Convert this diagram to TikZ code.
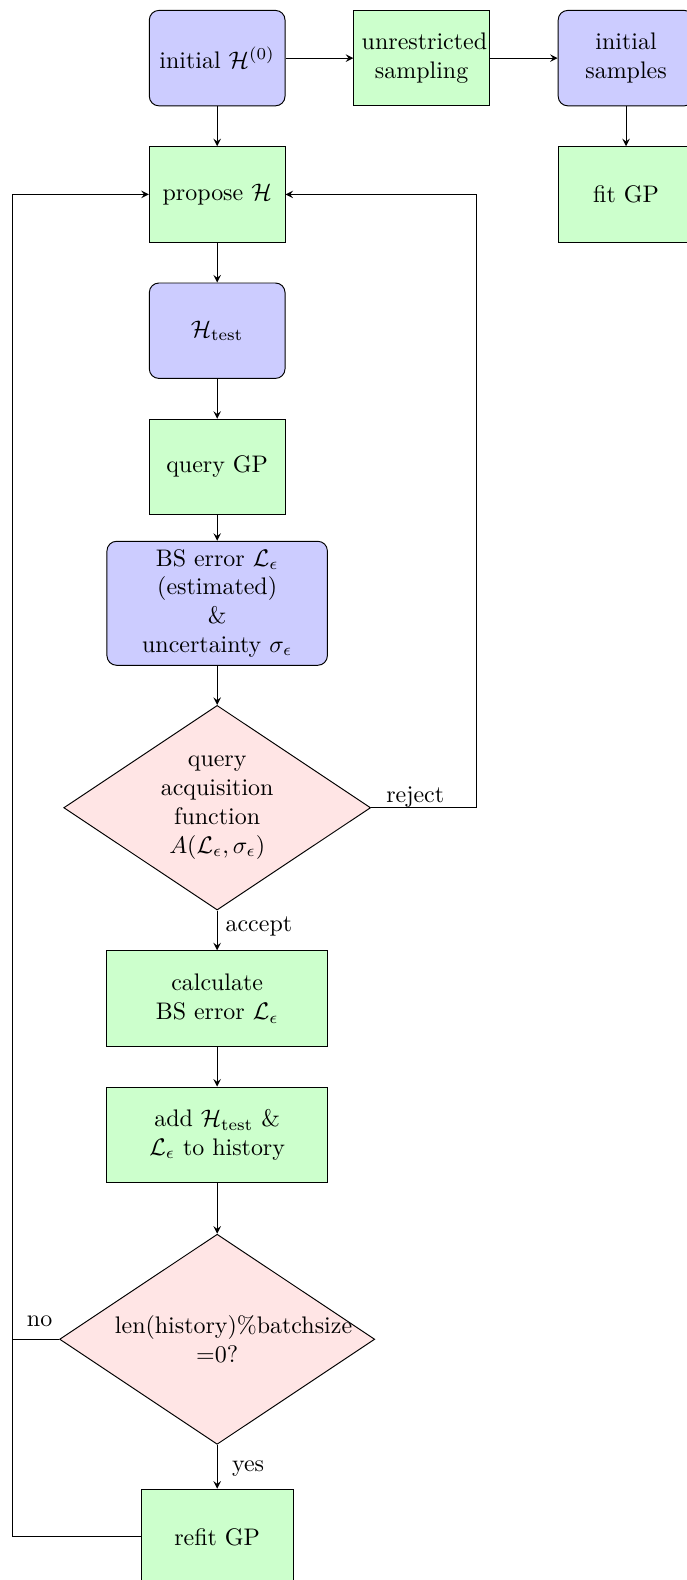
\documentclass[tikz,border=0pt]{standalone}
\usepackage{amsmath}
\usepackage{amssymb}
\usepackage{tikz}
\usepackage{xcolor}
\usetikzlibrary{positioning,shapes.geometric}
\tikzset{
    model-box/.style = {draw, fill=blue!20, rectangle, rounded corners, text width=5em, minimum height=1.4cm, align=center},
    process-box/.style = {draw, fill=green!20, rectangle, text width=5em, minimum height=1.4cm, align=center},
    wide-text/.style = {text width=3cm},
    decision-box/.style = {draw, fill=red!10, diamond, aspect=1.5, align=center},
    flow-arrow/.style = {-stealth},
}

\begin{document}
\begin{tikzpicture}[node distance=2cm and 3cm, on grid]
\useasboundingbox (-3.187,0.853) rectangle (6.880,-22.333);

% top row
\node [model-box] (init) {initial $\mathcal{H}^{(0)}$};
\node [process-box, right=of init] (sampling) {unrestricted sampling};
\node [model-box, right=of sampling] (samples) {initial samples};
\node [process-box, below=of samples] (fit) {fit GP};

% main loop
\node [process-box, below=of init] (propose) {propose $\mathcal{H}$};
\node [model-box, below=of propose] (test) {$\mathcal{H}_{\text{test}}$};
\node [process-box, below=of test] (query) {query GP};
\node [model-box, wide-text, below=of query] (estimate) {BS error $\mathcal{L}_\epsilon$\\(estimated)\\\&\\uncertainty $\sigma_\epsilon$};
\node [decision-box, below=3cm of estimate] (acquire) {query\\acquisition\\function\\$A(\mathcal{L}_\epsilon, \sigma_\epsilon)$};
\node [process-box, wide-text, below=2.8cm of acquire] (calc) {calculate\\BS error $\mathcal{L}_\epsilon$};
\node [process-box, wide-text, below=of calc] (history) {add $\mathcal{H}_{\text{test}}$ \&\\$\mathcal{L}_\epsilon$ to history};
\node [decision-box, text width=3cm, below=3cm of history] (batch) {len(history)\%batchsize\\=0?};
\node [process-box, text width=2cm, below=2.9cm of batch] (refit) {refit GP};

\draw[flow-arrow] (init) -- (sampling);
\draw[flow-arrow] (sampling) -- (samples);
\draw[flow-arrow] (samples) -- (fit);
\draw[flow-arrow] (init) -- (propose);
\draw[flow-arrow] (propose) -- (test);
\draw[flow-arrow] (test) -- (query);
\draw[flow-arrow] (query) -- (estimate);
\draw[flow-arrow] (estimate) -- (acquire);
\draw[flow-arrow] (acquire) -- node[right, pos=0.4] {accept} (calc);
\draw[flow-arrow] (calc) -- (history);
\draw[flow-arrow] (history) -- (batch);
\draw[flow-arrow] (batch) -- node[right=2.7pt, pos=0.55] {yes} (refit);

% feedback lines
\coordinate (left-rail) at ([xshift=-3cm]propose.center);
\coordinate (right-rail) at ([xshift=3.8cm]propose.center);
\draw[flow-arrow] (refit.west) -| (left-rail) -- (propose.west);
\draw (batch.west) -- node[pos=0.42, anchor=base, yshift=5.4pt] {no} (batch.west -| left-rail);
\draw[flow-arrow] (acquire.east) -| node[pos=0.21, anchor=base, yshift=2.2pt] {reject} (right-rail) -- (propose.east);
\end{tikzpicture}
\end{document}
